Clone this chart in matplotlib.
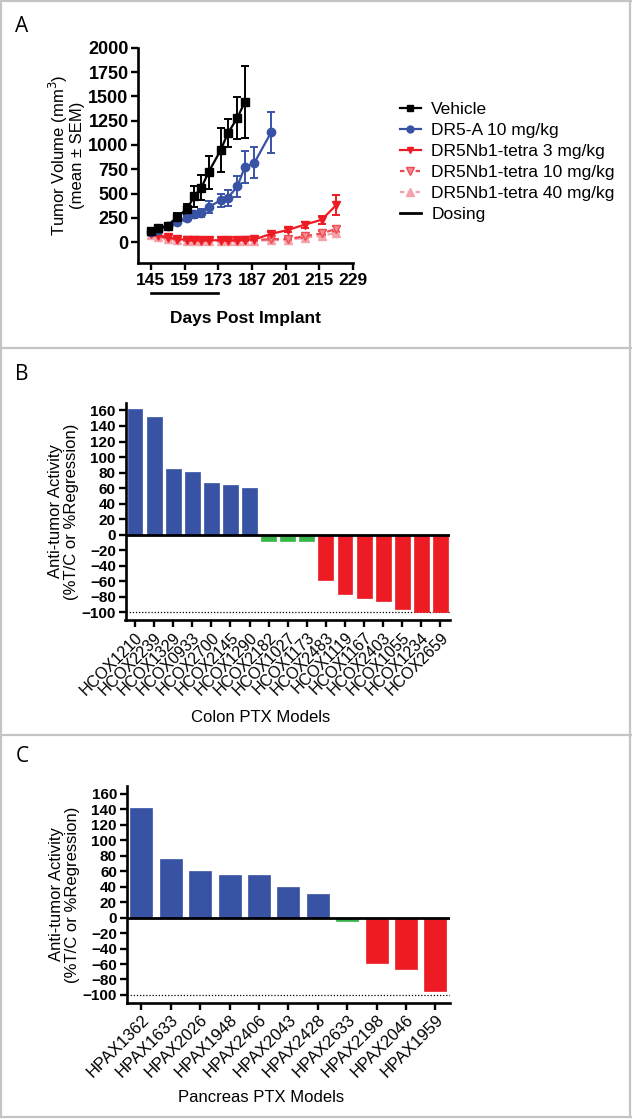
import matplotlib
matplotlib.use("Agg")
import matplotlib.pyplot as plt
from matplotlib.lines import Line2D
import matplotlib.transforms as mtrans

plt.rcParams['font.family'] = ['Liberation Sans', 'DejaVu Sans']

# ---------------- Panel A data ----------------
veh_days = [145, 148, 152, 156, 160, 163, 166, 169, 174, 177, 181, 184]
veh_vals = [110, 140, 170, 260, 340, 470, 560, 720, 945, 1120, 1280, 1440]
veh_err = [15, 20, 25, 35, 50, 110, 130, 170, 225, 145, 215, 370]

dr5a_days = [145, 148, 152, 156, 160, 163, 166, 169, 174, 177, 181, 184, 188, 195]
dr5a_vals = [100, 120, 165, 205, 250, 285, 300, 360, 430, 455, 575, 770, 815, 1130]
dr5a_err = [15, 15, 20, 25, 30, 35, 45, 60, 70, 80, 110, 165, 160, 210]

nb_days = [145, 148, 152, 156, 160, 163, 166, 169, 174, 177, 181, 184, 188, 195, 202, 209, 216, 222]
nb3_vals = [95, 70, 50, 30, 25, 22, 20, 20, 18, 18, 20, 22, 28, 85, 125, 180, 230, 380]
nb3_err = [10, 10, 10, 8, 6, 6, 5, 5, 5, 5, 5, 6, 8, 15, 20, 30, 40, 100]
nb10_vals = [85, 60, 40, 25, 20, 18, 15, 15, 15, 15, 15, 18, 22, 30, 32, 60, 90, 135]
nb10_err = [10, 8, 8, 6, 5, 5, 5, 5, 5, 5, 5, 5, 6, 10, 12, 15, 20, 30]
nb40_vals = [75, 50, 30, 20, 15, 12, 10, 10, 10, 10, 10, 12, 15, 20, 22, 45, 65, 95]
nb40_err = [8, 8, 6, 5, 5, 4, 4, 4, 4, 4, 4, 4, 5, 8, 10, 12, 15, 20]

dosing_days = [145, 173]
a_xticks = [145, 159, 173, 187, 201, 215, 229]
a_yticks = [0, 250, 500, 750, 1000, 1250, 1500, 1750, 2000]

# ---------------- Panel B data ----------------
colon_models = ['HCOX1210', 'HCOX2239', 'HCOX1329', 'HCOX0933', 'HCOX2700', 'HCOX2145',
                'HCOX1290', 'HCOX2182', 'HCOX1027', 'HCOX1173', 'HCOX2483', 'HCOX1119',
                'HCOX1167', 'HCOX2403', 'HCOX1055', 'HCOX1234', 'HCOX2659']
colon_vals = [162, 151, 84, 81, 67, 64, 60, -8, -8, -8, -59, -76, -82, -86, -96, -100, -100]

# ---------------- Panel C data ----------------
panc_models = ['HPAX1362', 'HPAX1633', 'HPAX2026', 'HPAX1948', 'HPAX2406', 'HPAX2043',
               'HPAX2428', 'HPAX2633', 'HPAX2198', 'HPAX2046', 'HPAX1959']
panc_vals = [141, 76, 60, 55, 55, 40, 30, -4, -59, -67, -95]

bar_yticks = [160, 140, 120, 100, 80, 60, 40, 20, 0, -20, -40, -60, -80, -100]

BLUE = '#3953a4'
GREEN = '#39b54a'
RED = '#ed1c24'
RED10 = '#ef4b52'
PINK = '#f4a3ab'

W, H = 632, 1119
fig = plt.figure(figsize=(W / 100, H / 100), dpi=100)


def fbox(l, t, r, b):
    return [l / W, 1 - b / H, (r - l) / W, (b - t) / H]


# panel borders
bc = '#c4c4c4'
for y in [1, 348, 735, 1117]:
    fig.add_artist(Line2D([0, 1], [1 - y / H, 1 - y / H], color=bc, lw=1.6))
for x in [1, 630]:
    fig.add_artist(Line2D([x / W, x / W], [1 - 1117 / H, 1 - 1 / H], color=bc, lw=1.6))

for lab, y in [('A', 27), ('B', 375), ('C', 757)]:
    fig.text(22 / W, 1 - y / H, lab, fontsize=15, family='Open Sans', va='center', ha='center')

# ---------------- Panel A ----------------
axA = fig.add_axes(fbox(138.3, 47.7, 353, 263))
kw = dict(capsize=3, markersize=6, linewidth=1.6, elinewidth=1.4, capthick=1.4)
axA.errorbar(nb_days, nb40_vals, yerr=nb40_err, fmt='^', linestyle=(0, (3, 2)), color=PINK,
             markerfacecolor=PINK, **kw)
axA.errorbar(nb_days, nb10_vals, yerr=nb10_err, fmt='v', linestyle=(0, (3, 2)), color=RED10,
             markerfacecolor='#f58a90', **kw)
axA.errorbar(nb_days, nb3_vals, yerr=nb3_err, fmt='v-', color=RED, **kw)
axA.errorbar(dr5a_days, dr5a_vals, yerr=dr5a_err, fmt='o-', color=BLUE, **kw)
axA.errorbar(veh_days, veh_vals, yerr=veh_err, fmt='s-', color='black', **kw)

axA.set_xlim(139.8, 229)
axA.set_ylim(-215, 2000)
axA.set_xticks(a_xticks)
axA.set_yticks(a_yticks)
for s in ['top', 'right']:
    axA.spines[s].set_visible(False)
for s in ['left', 'bottom']:
    axA.spines[s].set_linewidth(1.9)
axA.tick_params(width=1.7, length=5, pad=2)
axA.tick_params(axis='x', labelsize=12.5)
axA.tick_params(axis='y', labelsize=13)
for t in axA.get_xticklabels() + axA.get_yticklabels():
    t.set_fontweight('bold')
axA.set_ylabel('Tumor Volume (mm$^3$)\n(mean ± SEM)', fontsize=12, labelpad=2, linespacing=1.05)
trA = mtrans.blended_transform_factory(axA.transData, axA.transAxes)
axA.add_line(Line2D(dosing_days, [-0.139, -0.139], transform=trA, color='black', lw=1.9,
                    clip_on=False))
fig.text(245 / W, 1 - 318 / H, 'Days Post Implant', fontsize=12.5, fontweight='bold',
         ha='center', va='center')

handles = [
    Line2D([], [], color='black', marker='s', markersize=5, lw=1.6),
    Line2D([], [], color=BLUE, marker='o', markersize=5, lw=1.6),
    Line2D([], [], color=RED, marker='v', markersize=5, lw=1.6),
    Line2D([], [], color=RED10, marker='v', markersize=6, lw=1.6, linestyle=(0, (2, 1.5)),
           markerfacecolor='#f58a90'),
    Line2D([], [], color=PINK, marker='^', markersize=6, lw=1.6, linestyle=(0, (2, 1.5))),
    Line2D([], [], color='black', lw=2),
]
labels = ['Vehicle', 'DR5-A 10 mg/kg', 'DR5Nb1-tetra 3 mg/kg', 'DR5Nb1-tetra 10 mg/kg',
          'DR5Nb1-tetra 40 mg/kg', 'Dosing']
fig.legend(handles, labels, loc='upper left', bbox_to_anchor=(400 / W, 1 - 102 / H),
           frameon=False, fontsize=12.5, handlelength=1.2, handletextpad=0.6,
           labelspacing=0.34, borderpad=0, borderaxespad=0)


# ---------------- Bar panels ----------------
def bar_panel(box, models, vals, xlabel, xlabel_y, bw, xfs):
    ax = fig.add_axes(fbox(*box))
    cols = [BLUE if v > 0 else (GREEN if v > -20 else RED) for v in vals]
    x = list(range(len(models)))
    ax.bar(x, vals, width=bw, color=cols, edgecolor=cols, linewidth=0.5, zorder=2)
    ax.axhline(0, color='black', lw=2, zorder=3)
    ax.axhline(-100, color='black', lw=0.9, linestyle=(0, (1, 1.5)), zorder=1)
    ax.set_xlim(-0.5, len(models) - 0.5)
    ax.set_ylim(-110, 170)
    ax.set_yticks(bar_yticks)
    ax.set_xticks(x)
    ax.set_xticklabels(models, rotation=45, ha='right', rotation_mode='anchor', fontsize=xfs)
    for s in ['top', 'right']:
        ax.spines[s].set_visible(False)
    for s in ['left', 'bottom']:
        ax.spines[s].set_linewidth(1.9)
    ax.tick_params(width=1.7, length=5, pad=2)
    ax.tick_params(axis='y', labelsize=11)
    for t in ax.get_yticklabels():
        t.set_fontweight('bold')
    ax.set_ylabel('Anti-tumor Activity\n(%T/C or %Regression)', fontsize=12, labelpad=2,
                  linespacing=1.05)
    fig.text(261 / W, 1 - xlabel_y / H, xlabel, fontsize=12, ha='center', va='center')
    return ax


bar_panel((125.5, 402.7, 450, 620), colon_models, colon_vals, 'Colon PTX Models', 717, 0.78, 11.5)
bar_panel((126.7, 786, 450, 1002.7), panc_models, panc_vals, 'Pancreas PTX Models', 1098, 0.75, 12)

fig.savefig('out.png', dpi=100)
